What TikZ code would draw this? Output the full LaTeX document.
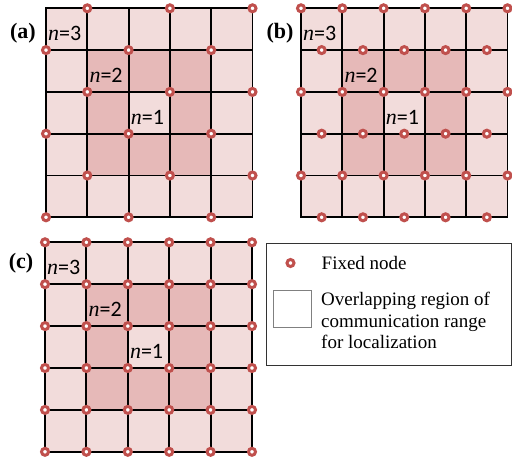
\documentclass[tikz,border=0pt]{standalone}
\usepackage{fontspec}
\setmainfont{Liberation Serif}
\newfontfamily\digitfont{Carlito}
\usetikzlibrary{positioning}
\definecolor{lightpink}{HTML}{F2DCDB}
\definecolor{darkpink}{HTML}{E6B9B8}
\definecolor{nodered}{HTML}{C0504D}
\tikzset{
    gridline/.style = {black, line width=1.9pt, line cap=rect},
    fixednode/.style = {draw=nodered, fill=white, circle, line width=3pt, 
      minimum size=7pt, inner sep=0em},
    countlabel/.style = {draw=none, fill=none, inner sep=0em, anchor=base west, 
      xshift=2pt, yshift=9.5pt, font=\fontsize{22}{22}\selectfont},
    panellabel/.style = {draw=none, fill=none, inner sep=0em, 
      font=\fontsize{22}{22}\selectfont\bfseries},
    legendtext/.style = {draw=none, fill=none, inner sep=0em, align=left, 
      font=\fontsize{19}{21.5}\selectfont},
    legendbox/.style = {draw=black!80, line width=1pt, rectangle, inner sep=0em}
}
% 5x5 cells, rings n=3 (outer), n=2, n=1 (centre)
\newcommand{\cellgrid}{%
    \fill[lightpink] (0,0) rectangle (5,5);
    \fill[darkpink] (1,1) rectangle (4,4);
    \fill[lightpink] (2,2) rectangle (3,3);
    \foreach \k in {0,...,5} {
        \draw[gridline] (\k,0) -- (\k,5);
        \draw[gridline] (0,\k) -- (5,\k);
    }
}

\begin{document}
\begin{tikzpicture}[x=1pt, y=-1pt]
    \useasboundingbox (0,0) rectangle (512,460);

    % (a)
    \node [name=lbla, panellabel] at (23,33) {(a)};
    \begin{scope}[xshift=46pt, yshift=-8.3pt, x=41.3pt, y=-41.8pt]
        \cellgrid
        \node [name=an3, countlabel] at (0,1) {\textit{n}{\digitfont =3}};
        \node [name=an2, countlabel] at (1,2) {\textit{n}{\digitfont =2}};
        \node [name=an1, countlabel] at (2,3) {\textit{n}{\digitfont =1}};
        \foreach \r in {0,...,5} {
            \pgfmathtruncatemacro{\s}{mod(\r+1,2)}
            \foreach \c in {0,2,4}
                \node [name=a-\r-\c, fixednode] at (\c+\s,\r) {};
        }
    \end{scope}

    % (b)
    \node [name=lblb, panellabel] at (280,33) {(b)};
    \begin{scope}[xshift=301pt, yshift=-8.3pt, x=41.3pt, y=-41.8pt]
        \cellgrid
        \node [name=bn3, countlabel] at (0,1) {\textit{n}{\digitfont =3}};
        \node [name=bn2, countlabel] at (1,2) {\textit{n}{\digitfont =2}};
        \node [name=bn1, countlabel] at (2,3) {\textit{n}{\digitfont =1}};
        \foreach \r in {0,2,4}
            \foreach \c in {0,...,5}
                \node [name=b-\r-\c, fixednode] at (\c,\r) {};
        \foreach \r in {1,3,5}
            \foreach \c in {0,...,4}
                \node [name=b-\r-\c, fixednode] at (\c+0.5,\r) {};
    \end{scope}

    % (c)
    \node [name=lblc, panellabel] at (21,263) {(c)};
    \begin{scope}[xshift=45pt, yshift=-242.3pt, x=41.4pt, y=-41.9pt]
        \cellgrid
        \node [name=cn3, countlabel] at (0,1) {\textit{n}{\digitfont =3}};
        \node [name=cn2, countlabel] at (1,2) {\textit{n}{\digitfont =2}};
        \node [name=cn1, countlabel] at (2,3) {\textit{n}{\digitfont =1}};
        \foreach \r in {0,...,5}
            \foreach \c in {0,...,5}
                \node [name=c-\r-\c, fixednode] at (\c,\r) {};
    \end{scope}

    % legend
    \node [name=legend, legendbox, anchor=north west, minimum width=244.5pt, 
        minimum height=122.5pt] at (266,242.5) {};
    \node [name=fixsym, fixednode] at (290.5,263) {};
    \node [name=fixtext, legendtext, right=26pt of fixsym] {Fixed node};
    \node [name=regionsym, draw=black!50, fill=white, line width=0.8pt, inner sep=0em, 
        anchor=north west, minimum width=38pt, minimum height=37pt] at (273,290) {};
    \node [name=regiontext, legendtext, anchor=north west] at (321,292) 
        {Overlapping region of\\communication range\\for localization};
\end{tikzpicture}
\end{document}
